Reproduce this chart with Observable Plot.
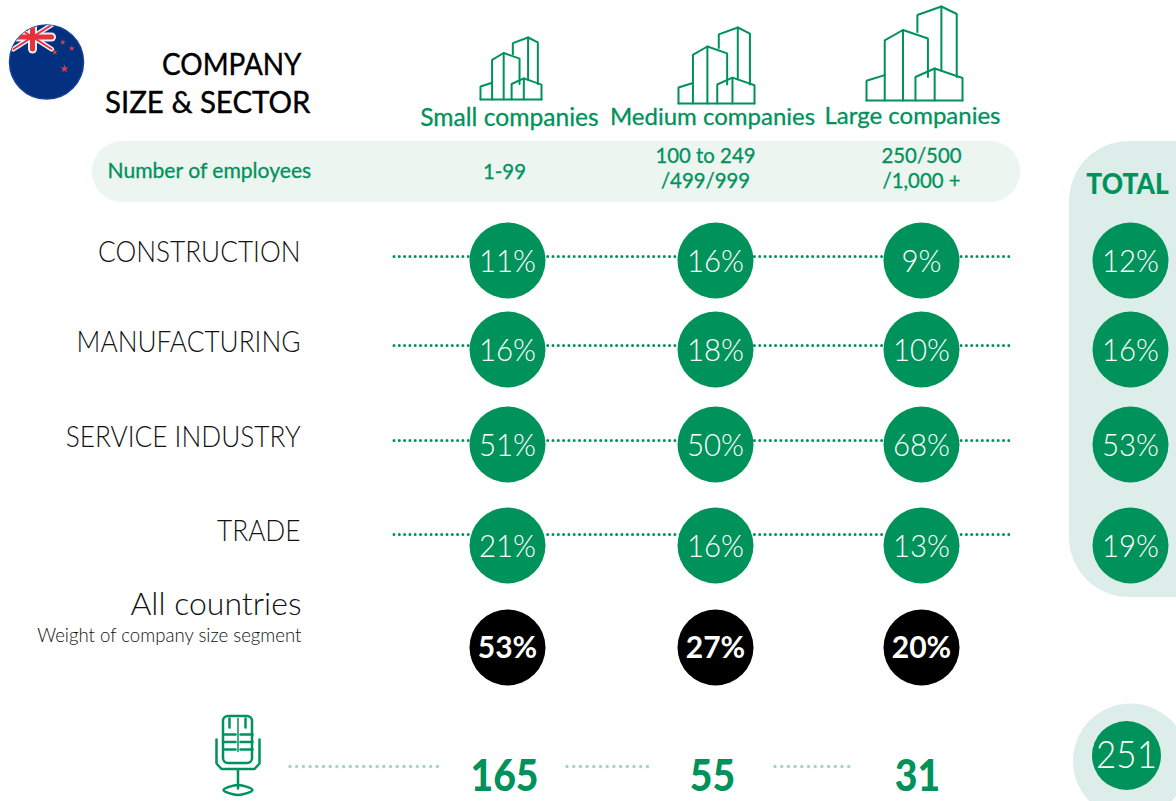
<!DOCTYPE html>
<html><head><meta charset="utf-8">
<script src="https://cdn.jsdelivr.net/npm/d3@7"></script>
<script src="https://cdn.jsdelivr.net/npm/@observablehq/plot@0.6"></script>
<style>html,body{margin:0;padding:0;background:#fff}svg{display:block}</style>
</head><body><div id="chart"></div>
<script>
// ---- data ----
const sizes = ["Small companies", "Medium companies", "Large companies"];
const employees = ["1-99", "100 to 249\n/499/999", "250/500\n/1,000 +"];
const sectors = ["CONSTRUCTION", "MANUFACTURING", "SERVICE INDUSTRY", "TRADE"];
const small = [11, 16, 51, 21];
const medium = [16, 18, 50, 16];
const large = [9, 10, 68, 13];
const total = [12, 16, 53, 19];
const weight = [53, 27, 20];
const respondents = [165, 55, 31];
const totalRespondents = 251;

// ---- layout ----
const GREEN = "#00925b", FONT = "Lato";
const colX = [507, 715, 921], totX = 1130;
const rowY = [260, 349, 444, 545], weightY = 647;
const dotY = [256, 345, 440, 534];
const labelY = [252, 342, 437, 531];
const headerX = [509, 712, 912], headerY = [118, 117, 116], headerSize = [24.6, 24, 24];
const empX = [504, 705, 921], empY = [170, 167, 167];
const countX = [504, 712, 917], countY = 776;
const R = 38;
const icons = [
  {x0: 480, x1: 541, y0: 37, y1: 99},
  {x0: 678, x1: 754, y0: 27, y1: 103},
  {x0: 866, x1: 962, y0: 6, y1: 100}
];
// building outline, unit box
const buildingShape = [
  [[0.53,0.27],[0.53,0.09],[0.78,0],[0.94,0.08],[0.94,0.75]],
  [[0.78,0],[0.78,0.68]],
  [[0.19,1],[0.19,0.36],[0.38,0.25],[0.64,0.34],[0.64,0.75]],
  [[0.38,0.25],[0.38,1]],
  [[0,1],[0,0.79],[0.19,0.73]],
  [[0.51,1],[0.51,0.75],[0.71,0.66],[1,0.76],[1,1]],
  [[0.71,0.66],[0.71,1]],
  [[0,1],[1,1]]
];
const buildingLines = icons.flatMap((b, i) => buildingShape.flatMap((seg, j) =>
  seg.map(([u, v]) => ({x: b.x0 + u * (b.x1 - b.x0), y: b.y0 + v * (b.y1 - b.y0), z: `${i}-${j}`}))));

const micLines = [
  [[216,739],[216,763],[221,768.5],[254,768.5],[259,763],[259,739]],
  [[237.5,769],[237.5,788]],
  [[229,718],[229,727]], [[245,718],[245,727]],
  [[224,734],[235,734]], [[240,734],[252,734]],
  [[224,741.5],[235,741.5]], [[240,741.5],[252,741.5]],
  [[224,749],[235,749]], [[240,749],[252,749]]
].flatMap((seg, j) => seg.map(([x, y]) => ({x, y, z: j})));
const micStem = [{x: 237.5, y: 718}, {x: 237.5, y: 751}];

const flagCenter = [{x: 46, y: 61.5}];
const jackWhite = [
  {w: 5, p: [[13,24.5],[51,48.5]]}, {w: 5, p: [[13,48.5],[51,24.5]]},
  {w: 9, p: [[9,36.5],[51,36.5]]}, {w: 9, p: [[32,24],[32,48.5]]}
].flatMap((s, j) => s.p.map(([x, y]) => ({x, y, z: j, w: s.w})));
const jackRed = [
  {w: 2, p: [[13,24.5],[51,48.5]]}, {w: 2, p: [[13,48.5],[51,24.5]]},
  {w: 5, p: [[9,36.5],[51,36.5]]}, {w: 5, p: [[32,24],[32,48.5]]}
].flatMap((s, j) => s.p.map(([x, y]) => ({x, y, z: j, w: s.w})));
const stars = [{x: 62.3, y: 41.7, r: 1.9}, {x: 71.3, y: 48, r: 1.9}, {x: 54.3, y: 51.7, r: 1.9}, {x: 64, y: 68.3, r: 2.6}];

// ---- helpers ----
const clipFlag = (i, s, c, d, ctx, next) => {
  const g = next(i, s, c, d, ctx);
  g.style.clipPath = "circle(37px at 46px 61.5px) view-box";
  return g;
};
// condense glyphs horizontally about each text's anchor point
const squeeze = (sx) => (i, s, c, d, ctx, next) => {
  const g = next(i, s, c, d, ctx);
  g.querySelectorAll("text").forEach((t) => {
    const tr = t.getAttribute("transform");
    if (tr) t.setAttribute("transform", `${tr} scale(${sx},1)`);
    else {
      const x = +t.getAttribute("x") || 0;
      t.setAttribute("transform", `translate(${x * (1 - sx)},0) scale(${sx},1)`);
    }
  });
  return g;
};
const txt = (rows, o, sx = 1) => Plot.text(rows, {fontFamily: FONT, lineAnchor: "middle", render: squeeze(sx), ...o});
const cells = sizes.flatMap((s, c) => [small, medium, large][c].map((v, r) => ({x: colX[c], y: rowY[r] + 1.5, cy: rowY[r], v: `${v}%`})));
const totals = total.map((v, r) => ({x: totX, y: rowY[r] + 1.5, cy: rowY[r], v: `${v}%`}));
const weights = weight.map((v, c) => ({x: colX[c], y: weightY + 1, cy: weightY, v: `${v}%`}));

const marks = [
  // panels
  Plot.rect([{x1: 92, x2: 1020, y1: 141, y2: 202}], {x1: "x1", x2: "x2", y1: "y1", y2: "y2", fill: "#ecf5f0", rx: 30}),
  Plot.rect([{x1: 1069, x2: 1240, y1: 141, y2: 597}], {x1: "x1", x2: "x2", y1: "y1", y2: "y2", fill: "#dcedea", rx: 60}),
  Plot.dot([{x: 1130, y: 760.5}], {x: "x", y: "y", r: 57.5, fill: "#dcedea"}),
  // flag
  Plot.dot(flagCenter, {x: "x", y: "y", r: 37, fill: "#03307f", stroke: "#173f99", strokeWidth: 1.5}),
  Plot.line(jackWhite, {x: "x", y: "y", z: "z", stroke: "#eef0f6", strokeWidth: "w", render: clipFlag}),
  Plot.line(jackRed, {x: "x", y: "y", z: "z", stroke: "#e6323c", strokeWidth: "w", render: clipFlag}),
  Plot.dot(stars, {x: "x", y: "y", r: "r", symbol: "star", fill: "#e03c46"}),
  // building icons
  Plot.line(buildingLines, {x: "x", y: "y", z: "z", stroke: GREEN, strokeWidth: 2, strokeLinejoin: "miter"}),
  // mic icon
  Plot.rect([{x1: 223, x2: 252, y1: 716, y2: 763}], {x1: "x1", x2: "x2", y1: "y1", y2: "y2", fill: "none", stroke: GREEN, strokeWidth: 2.5, rx: 5}),
  Plot.line(micLines, {x: "x", y: "y", z: "z", stroke: GREEN, strokeWidth: 2.5}),
  Plot.line(micStem, {x: "x", y: "y", stroke: GREEN, strokeWidth: 1.5}),
  Plot.line([[223,789.5],[237.5,784.5],[252,789.5],[237.5,794.5]].map(([x, y]) => ({x, y})), {x: "x", y: "y", stroke: GREEN, strokeWidth: 2.5, curve: "cardinal-closed"}),
  // leader lines
  Plot.ruleY(dotY, {x1: 394, x2: 1013, y: (d) => d, stroke: GREEN, strokeWidth: 3, strokeLinecap: "round", strokeDasharray: "0 5.3"}),
  Plot.ruleY([766], {x1: 290, x2: 443, stroke: "#a4d8bd", strokeWidth: 3.5, strokeLinecap: "round", strokeDasharray: "0 6.7"}),
  Plot.ruleY([766], {x1: 567, x2: 652, stroke: "#a4d8bd", strokeWidth: 3.5, strokeLinecap: "round", strokeDasharray: "0 6.7"}),
  Plot.ruleY([766], {x1: 775, x2: 855, stroke: "#a4d8bd", strokeWidth: 3.5, strokeLinecap: "round", strokeDasharray: "0 6.7"}),
  // circles
  Plot.dot([...cells, ...totals], {x: "x", y: "cy", r: R, fill: GREEN}),
  Plot.dot(weights, {x: "x", y: "cy", r: R, fill: "#000"}),
  Plot.dot([{x: 1126, y: 755}], {x: "x", y: "y", r: 34.5, fill: GREEN}),
  txt([...cells, ...totals], {x: "x", y: "y", text: "v", fill: "#fff", fontSize: 32, fontWeight: 300}, 0.92),
  txt(weights, {x: "x", y: "y", text: "v", fill: "#fff", fontSize: 31, fontWeight: 700}, 0.97),
  txt([{x: 1126, y: 755, t: String(totalRespondents)}], {x: "x", y: "y", text: "t", fill: "#fff", fontSize: 38, fontWeight: 300}, 0.92),
  // titles
  txt(["COMPANY"], {x: 301, y: 65, text: (d) => d, textAnchor: "end", fontSize: 31, fill: "#000", stroke: "#000", strokeWidth: 0.4}, 0.9),
  txt(["SIZE & SECTOR"], {x: 310, y: 103, text: (d) => d, textAnchor: "end", fontSize: 31, fill: "#000", stroke: "#000", strokeWidth: 0.4}, 0.95),
  // headers
  txt(sizes, {x: (d, i) => headerX[i], y: (d, i) => headerY[i], text: (d) => d, fontSize: (d, i) => headerSize[i], fill: GREEN, stroke: GREEN, strokeWidth: 0.3}),
  txt(["Number of employees"], {x: 107, y: 170, text: (d) => d, textAnchor: "start", fontSize: 22, fill: GREEN, stroke: GREEN, strokeWidth: 0.3}, 0.96),
  txt(employees, {x: (d, i) => empX[i], y: (d, i) => empY[i], text: (d) => d, fontSize: 21, lineHeight: 1.2, fill: GREEN, stroke: GREEN, strokeWidth: 0.3}, 0.97),
  txt(["TOTAL"], {x: 1127, y: 185, text: (d) => d, fontSize: 28, fontWeight: 900, fill: GREEN}, 0.94),
  // row labels
  txt(sectors, {x: 300, y: (d, i) => labelY[i], text: (d) => d, textAnchor: "end", fontSize: 30, fontWeight: 300, fill: "#111"}, 0.875),
  txt(["All countries"], {x: 301, y: 604, text: (d) => d, textAnchor: "end", fontSize: 32, fontWeight: 300, fill: "#111"}),
  txt(["Weight of company size segment"], {x: 301, y: 636, text: (d) => d, textAnchor: "end", fontSize: 18.6, fontWeight: 300, fill: "#111"}),
  // sample size
  txt(respondents, {x: (d, i) => countX[i], y: countY, text: (d) => String(d), fontSize: 44, fontWeight: 900, fill: GREEN}, 0.89)
];

const chart = Plot.plot({
  width: 1176, height: 801,
  marginTop: 0, marginRight: 0, marginBottom: 0, marginLeft: 0,
  x: {domain: [0, 1176], range: [0, 1176], axis: null},
  y: {domain: [0, 801], range: [0, 801], axis: null},
  r: {type: "identity"},
  style: {background: "#fff"},
  marks
});
document.getElementById("chart").append(chart);
</script>
</body></html>
